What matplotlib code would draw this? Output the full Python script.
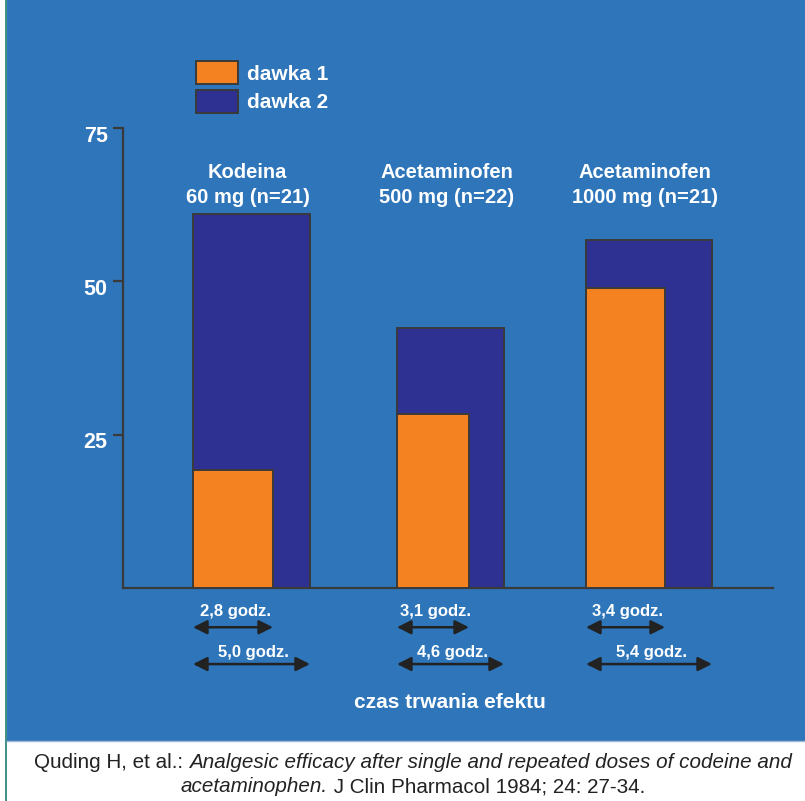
import matplotlib
matplotlib.use("Agg")
import matplotlib.pyplot as plt
import matplotlib.transforms as mtransforms
from matplotlib.patches import Rectangle, FancyArrowPatch
from matplotlib.lines import Line2D

# data
names = ["Kodeina", "Acetaminofen", "Acetaminofen"]
doses = ["60 mg (n=21)", "500 mg (n=22)", "1000 mg (n=21)"]
dawka1 = [19.2, 28.4, 48.9]
dawka2 = [61.0, 42.4, 56.7]
czas1 = ["2,8 godz.", "3,1 godz.", "3,4 godz."]
czas2 = ["5,0 godz.", "4,6 godz.", "5,4 godz."]
yticks = [25, 50, 75]

# layout (axis units along x)
starts = [70, 274, 463]
width1 = [80, 72, 79]
width2 = [117, 107, 126]

BLUE = "#2E75BA"
NAVY = "#2E3092"
ORANGE = "#F58220"
EDGE = "#3a3a3a"
WIDE = ["Liberation Sans", "DejaVu Sans"]
NARROW = ["Liberation Sans Narrow", "Liberation Sans", "DejaVu Sans"]

fig = plt.figure(figsize=(8.05, 8.01), dpi=100)
fig.patch.set_facecolor("white")
fig.patches.append(Rectangle((7 / 805, 60 / 801), 1, 1, transform=fig.transFigure,
                             facecolor=BLUE, edgecolor="none", zorder=-5))
fig.add_artist(Line2D([6 / 805, 6 / 805], [0, 1], transform=fig.transFigure,
                      color="#1f7d6e", lw=1.2))
fig.add_artist(Line2D([7 / 805, 1], [60 / 801, 60 / 801], transform=fig.transFigure,
                      color="#9fb8d6", lw=1))

ax = fig.add_axes([123 / 805, 213 / 801, 650 / 805, 460 / 801])
ax.set_zorder(2)
ax.set_facecolor("none")
ax.set_xlim(0, 650)
ax.set_ylim(0, 75)
for s in ["top", "right"]:
    ax.spines[s].set_visible(False)
for s in ["left", "bottom"]:
    ax.spines[s].set_color(EDGE)
    ax.spines[s].set_linewidth(1.6)
ax.set_xticks([])
ax.set_yticks(yticks)
ax.set_yticklabels([str(t) for t in yticks], color="white", fontsize=15.5,
                   fontweight="bold", family=WIDE)
ax.tick_params(axis="y", length=7, width=1.6, color=EDGE, pad=4)
shift = mtransforms.ScaledTranslation(0, -4 / 72, fig.dpi_scale_trans)
for lbl in ax.get_yticklabels():
    lbl.set_transform(lbl.get_transform() + shift)

for i in range(3):
    ax.bar(starts[i], dawka2[i], width=width2[i], align="edge", color=NAVY,
           edgecolor=EDGE, linewidth=1.4, zorder=2)
    ax.bar(starts[i], dawka1[i], width=width1[i], align="edge", color=ORANGE,
           edgecolor=EDGE, linewidth=1.4, zorder=3)
    cx = starts[i] + width2[i] / 2
    ax.text(cx - 4, 67.7, names[i], ha="center", va="center", color="white",
            fontsize=14.5, fontweight="bold", family=NARROW)
    ax.text(cx - 4, 63.7, doses[i], ha="center", va="center", color="white",
            fontsize=14.5, fontweight="bold", family=NARROW)
    # duration arrows
    for (w, lab, yl, ya) in [(width1[i], czas1[i], -3.8, -6.4),
                             (width2[i], czas2[i], -10.5, -12.4)]:
        arr = FancyArrowPatch((starts[i], ya), (starts[i] + w, ya),
                              arrowstyle="<|-|>,head_length=0.7,head_width=0.35",
                              mutation_scale=12, color="#222222", lw=1.8,
                              shrinkA=0, shrinkB=0, clip_on=False)
        ax.add_patch(arr)
        ax.text(starts[i] + w / 2 + 2, yl, lab, ha="center", va="center",
                color="white", fontsize=12, fontweight="bold", family=WIDE,
                clip_on=False)

ax.text(327, -18.6, "czas trwania efektu", ha="center", va="center", color="white",
        fontsize=15, fontweight="bold", family=NARROW, clip_on=False)

# legend
for j, (c, lab) in enumerate([(ORANGE, "dawka 1"), (NAVY, "dawka 2")]):
    y0 = 1 - (84 + 29 * j) / 801
    fig.patches.append(Rectangle((196 / 805, y0), 42 / 805, 23 / 801,
                                 transform=fig.transFigure, facecolor=c,
                                 edgecolor=EDGE, lw=1.4, zorder=3))
    fig.text(247 / 805, y0 + 10 / 801, lab, ha="left", va="center", color="white",
             fontsize=15, fontweight="bold", family=WIDE)

# caption with mixed styles
fig.canvas.draw()
r = fig.canvas.get_renderer()


def line(parts, yfig):
    objs = []
    for txt, style in parts:
        objs.append(fig.text(0, yfig, txt, ha="left", va="center", fontsize=14.9,
                             style=style, color="#222222", family=NARROW))
    ws = [o.get_window_extent(r).width for o in objs]
    x = 413 * fig.bbox.width / 805 - sum(ws) / 2
    for o, w in zip(objs, ws):
        o.set_x(x / fig.bbox.width)
        x += w


line([("Quding H, et al.: ", "normal"),
      ("Analgesic efficacy after single and repeated doses of codeine and", "italic")],
     1 - 763 / 801)
line([("acetaminophen.", "italic"), (" J Clin Pharmacol 1984; 24: 27-34.", "normal")],
     1 - 787 / 801)

fig.savefig("out.png", dpi=100)
